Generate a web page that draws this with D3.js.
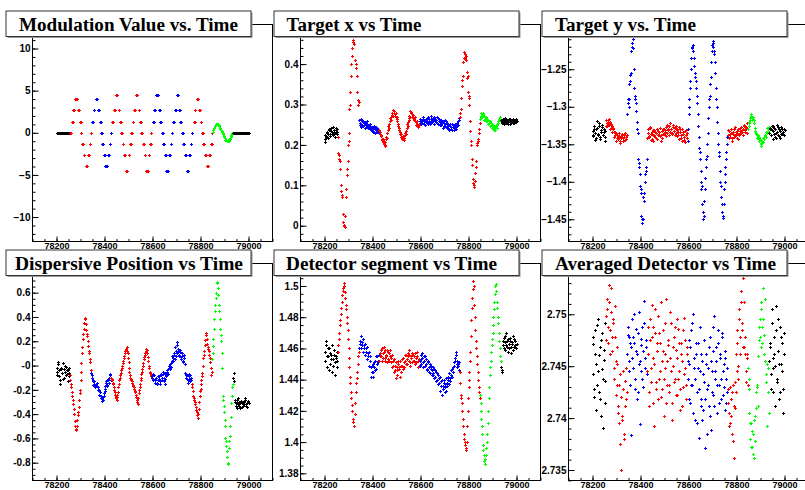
<!DOCTYPE html>
<html>
<head>
<meta charset="utf-8">
<script src="https://cdn.jsdelivr.net/npm/d3@7"></script>
<style>
  body { margin: 0; background: #fff; }
  svg { display: block; }
</style>
</head>
<body>
<script>
// Data

// sample times (every 4 time units, plus an offset set between them)
const times = [
  78200,78204,78208,78212,78216,78220,78224,78228,78232,78236,
  78240,78244,78248,78252,78256,78260,78264,78268,78272,78276,
  78280,78284,78288,78292,78296,78300,78304,78308,78312,78316,
  78320,78324,78328,78332,78336,78340,78344,78348,78352,78356,
  78360,78364,78368,78372,78376,78380,78384,78388,78392,78396,
  78400,78404,78408,78412,78416,78420,78424,78428,78432,78436,
  78440,78444,78448,78452,78456,78460,78464,78468,78472,78476,
  78480,78484,78488,78492,78496,78500,78504,78508,78512,78516,
  78520,78524,78528,78532,78536,78540,78544,78548,78552,78556,
  78560,78564,78568,78572,78576,78580,78584,78588,78592,78596,
  78600,78604,78608,78612,78616,78620,78624,78628,78632,78636,
  78640,78644,78648,78652,78656,78660,78664,78668,78672,78676,
  78680,78684,78688,78692,78696,78700,78704,78708,78712,78716,
  78720,78724,78728,78732,78736,78740,78744,78748,78752,78756,
  78760,78764,78768,78772,78776,78780,78784,78788,78792,78796,
  78800,78804,78808,78812,78816,78820,78824,78828,78832,78836,
  78840,78844,78848,78852,78856,78860,78864,78868,78872,78876,
  78880,78884,78888,78892,78896,78900,78904,78908,78912,78916,
  78920,78924,78928,78932,78936,78940,78944,78948,78952,78956,
  78960,78964,78968,78972,78976,78980,78984,78988,78992,78996,
  79000
];
const timesB = [
  78202,78206,78210,78214,78218,78222,78226,78230,78234,78238,
  78242,78246,78250,78254,78258,78262,78266,78270,78274,78278,
  78282,78286,78290,78294,78298,78302,78306,78310,78314,78318,
  78322,78326,78330,78334,78338,78342,78346,78350,78354,78358,
  78362,78366,78370,78374,78378,78382,78386,78390,78394,78398,
  78402,78406,78410,78414,78418,78422,78426,78430,78434,78438,
  78442,78446,78450,78454,78458,78462,78466,78470,78474,78478,
  78482,78486,78490,78494,78498,78502,78506,78510,78514,78518,
  78522,78526,78530,78534,78538,78542,78546,78550,78554,78558,
  78562,78566,78570,78574,78578,78582,78586,78590,78594,78598,
  78602,78606,78610,78614,78618,78622,78626,78630,78634,78638,
  78642,78646,78650,78654,78658,78662,78666,78670,78674,78678,
  78682,78686,78690,78694,78698,78702,78706,78710,78714,78718,
  78722,78726,78730,78734,78738,78742,78746,78750,78754,78758,
  78762,78766,78770,78774,78778,78782,78786,78790,78794,78798,
  78802,78806,78810,78814,78818,78822,78826,78830,78834,78838,
  78842,78846,78850,78854,78858,78862,78866,78870,78874,78878,
  78882,78886,78890,78894,78898,78902,78906,78910,78914,78918,
  78922,78926,78930,78934,78938,78942,78946,78950,78954,78958,
  78962,78966,78970,78974,78978,78982,78986,78990,78994,78998
];

// modulation periods: a time belongs to segment bisect(segmentEdges, t)
const segmentEdges = [78256, 78344, 78428, 78596, 78764, 78848, 78936];
const segmentKinds = ["off", "x", "y", "x", "y", "x", "e", "off"];

// Modulation value: stepped levels
const modTimes = [
  78200,78204,78208,78212,78216,78220,78224,78228,78232,78236,78240,78244,78248,78252,
  78258,78265,78270,78278,78281,78289,78297,78300,78307,78313,78321,78324,78332,78338,78342,
  78349,78355,78363,78366,78374,78381,78385,78391,78398,78404,78407,78416,78421,78426,
  78432,78439,78446,78449,78459,78464,78470,78476,78483,78489,78492,78501,78506,78510,
  78517,78523,78531,78534,78542,78548,78554,78560,78567,78574,78577,78584,78590,78594,
  78602,78608,78616,78619,78627,78633,78640,78645,78652,78658,78661,78669,78675,78680,
  78686,78693,78700,78703,78711,78716,78723,78729,78736,78743,78746,78754,78759,78763,
  78772,78776,78784,78787,78794,78801,78807,78812,78819,78826,78829,78837,78843,78846,
  78850,78854,78857,78860,78863,78865,78868,78872,78875,78878,78880,78883,78886,78889,78891,78893,
  78895,78897,78899,78902,78904,78907,78910,78914,78917,78920,78922,78925,78927,78929,78931,78933,
  78936,78940,78944,78948,78952,78956,78960,78964,78968,78972,78976,78980,78984,78988,78992,78996,79000
];
const modValues = [
  0,0,0,0,0,0,0,0,0,0,0,0,0,0,
  0,1.33,2.67,4,4,2.67,1.33,0,-1.33,-2.67,-4,-4,-2.67,-1.33,0,
  1.33,2.67,4,4,2.67,1.33,0,-1.33,-2.67,-4,-4,-2.67,-1.33,0,
  1.33,2.67,4.5,4.5,2.67,1.33,0,-1.33,-2.67,-4.5,-4.5,-2.67,-1.33,0,
  1.33,2.67,4.5,4.5,2.67,1.33,0,-1.33,-2.67,-4.5,-4.5,-2.67,-1.33,0,
  1.33,2.67,4.5,4.5,2.67,1.33,0,-1.33,-2.67,-4.5,-4.5,-2.67,-1.33,0,
  1.33,2.67,4.5,4.5,2.67,1.33,0,-1.33,-2.67,-4.5,-4.5,-2.67,-1.33,0,
  1.33,2.67,4,4,2.67,1.33,0,-1.33,-2.67,-4,-4,-2.67,-1.33,0,
  0.1,0.35,0.55,0.75,0.92,1.03,1.05,1.03,0.9,0.75,0.62,0.47,0.33,0.2,0.08,-0.05,
  -0.2,-0.36,-0.5,-0.67,-0.8,-0.91,-0.98,-0.99,-0.92,-0.79,-0.68,-0.52,-0.38,-0.24,-0.12,0,
  0,0,0,0,0,0,0,0,0,0,0,0,0,0,0,0,0
];
// second sample on each held level
const modTimesB = [
  78261,78268,78273,78281,78284,78292,78300,78303,78310,78316,78324,78327,78335,78341,
  78352,78358,78366,78369,78377,78384,78388,78394,78401,78407,78410,78419,78424,
  78435,78442,78449,78452,78462,78467,78473,78479,78486,78492,78495,78504,78509,
  78513,78520,78526,78534,78537,78545,78551,78557,78563,78570,78577,78580,78587,78593,
  78605,78611,78619,78622,78630,78636,78643,78648,78655,78661,78664,78672,78678,
  78683,78689,78696,78703,78706,78714,78719,78726,78732,78739,78746,78749,78757,78762,
  78775,78779,78787,78790,78797,78804,78810,78815,78822,78829,78832,78840,78846
];
const modValuesB = [
  0,1.33,2.67,4,4,2.67,1.33,0,-1.33,-2.67,-4,-4,-2.67,-1.33,
  1.33,2.67,4,4,2.67,1.33,0,-1.33,-2.67,-4,-4,-2.67,-1.33,
  1.33,2.67,4.5,4.5,2.67,1.33,0,-1.33,-2.67,-4.5,-4.5,-2.67,-1.33,
  0,1.33,2.67,4.5,4.5,2.67,1.33,0,-1.33,-2.67,-4.5,-4.5,-2.67,-1.33,
  1.33,2.67,4.5,4.5,2.67,1.33,0,-1.33,-2.67,-4.5,-4.5,-2.67,-1.33,
  0,1.33,2.67,4.5,4.5,2.67,1.33,0,-1.33,-2.67,-4.5,-4.5,-2.67,-1.33,
  1.33,2.67,4,4,2.67,1.33,0,-1.33,-2.67,-4,-4,-2.67,-1.33
];

const targetX = [
  0.215,0.224,0.219,0.231,0.226,0.236,0.228,0.241,0.233,0.225,0.238,0.229,0.243,0.232,
  0.22,0.175,0.16,0.1,0.07,0.03,0.002,-0.003,0.07,0.125,0.16,0.21,0.29,0.33,0.4,0.44,0.46,0.45,0.41,0.39,0.33,0.3,
  0.262,0.25,0.245,0.258,0.248,0.255,0.243,0.252,0.26,0.247,0.25,0.24,0.245,0.237,0.243,0.235,0.241,0.23,0.238,0.243,0.236,
  0.238,0.228,0.222,0.212,0.214,0.203,0.2,0.215,0.218,0.238,0.242,0.258,0.262,0.275,0.272,0.284,0.277,0.279,0.268,0.263,
  0.246,0.243,0.226,0.228,0.216,0.219,0.212,0.224,0.226,0.243,0.248,0.266,0.268,0.281,0.276,0.274,0.265,0.268,0.256,0.258,0.247,0.252,
  0.258,0.252,0.262,0.255,0.265,0.258,0.25,0.262,0.256,0.268,0.26,0.253,0.264,0.257,0.262,0.27,0.258,0.262,0.255,0.266,
  0.259,0.25,0.262,0.255,0.258,0.248,0.262,0.252,0.245,0.255,0.248,0.24,0.252,0.245,0.238,0.25,0.243,0.252,0.247,0.255,0.25,0.262,
  0.27,0.29,0.345,0.37,0.415,0.425,0.42,0.38,0.37,0.32,0.3,0.235,0.2,0.15,0.105,0.1,0.13,0.16,0.205,0.215,0.24,
  0.265,0.27,0.275,0.28,0.272,0.265,0.268,0.26,0.262,0.255,0.258,0.25,0.252,0.245,0.248,0.24,0.238,0.245,0.25,0.258,0.262,0.268,
  0.262,0.255,0.26,0.258,0.265,0.256,0.261,0.253,0.259,0.263,0.257,0.26,0.254,0.262,0.258,0.264,0.259
];
const targetXB = [
  0.208,0.221,0.229,0.217,0.239,0.222,0.234,0.227,0.245,0.23,0.219,0.236,0.226,0.24,
  0.18,0.165,0.14,0.085,0.075,0.01,0.0,0.025,0.09,0.14,0.2,0.23,0.3,0.37,0.42,0.455,0.47,0.41,0.4,0.37,0.31,0.305,
  0.255,0.264,0.251,0.246,0.26,0.249,0.257,0.245,0.253,0.241,0.248,0.252,0.238,0.244,0.233,0.246,0.239,0.244,0.232,0.24,0.229,
  0.232,0.225,0.215,0.208,0.21,0.198,0.208,0.22,0.23,0.248,0.252,0.266,0.27,0.279,0.286,0.28,0.272,0.27,0.258,0.252,
  0.238,0.232,0.22,0.214,0.222,0.218,0.229,0.235,0.252,0.256,0.262,0.272,0.285,0.279,0.268,0.27,0.262,0.26,0.25,0.253,0.244,0.249,
  0.264,0.255,0.259,0.268,0.252,0.261,0.257,0.266,0.251,0.263,0.255,0.272,0.258,0.26,0.266,0.253,0.263,0.256,0.27,0.252,
  0.265,0.257,0.25,0.26,0.243,0.254,0.247,0.258,0.241,0.25,0.236,0.246,0.24,0.251,0.244,0.237,0.248,0.24,0.252,0.246,0.258,0.266,
  0.28,0.315,0.36,0.405,0.43,0.415,0.41,0.365,0.33,0.315,0.26,0.21,0.165,0.115,0.095,0.11,0.145,0.2,0.21,0.23,0.255,
  0.272,0.278,0.268,0.276,0.262,0.27,0.258,0.265,0.252,0.26,0.247,0.255,0.242,0.25,0.236,0.244,0.25,0.242,0.255,0.264,0.27,0.258,
  0.257,0.263,0.252,0.266,0.26,0.255,0.262,0.258,0.265,0.252,0.261,0.256,0.263,0.255,0.26,0.257
];

const targetY = [
  -1.332,-1.338,-1.325,-1.335,-1.342,-1.328,-1.336,-1.322,-1.34,-1.331,-1.327,-1.337,-1.333,-1.34,
  -1.325,-1.322,-1.318,-1.324,-1.32,-1.328,-1.326,-1.33,-1.334,-1.338,-1.335,-1.341,-1.337,-1.343,-1.339,-1.345,-1.34,-1.336,-1.342,-1.338,-1.344,-1.34,
  -1.31,-1.295,-1.29,-1.265,-1.255,-1.22,-1.21,-1.25,-1.285,-1.295,-1.32,-1.335,-1.375,-1.39,-1.41,-1.445,-1.455,-1.42,-1.415,-1.39,-1.38,
  -1.342,-1.335,-1.34,-1.328,-1.336,-1.343,-1.331,-1.338,-1.334,-1.341,-1.329,-1.337,-1.333,-1.339,-1.345,-1.332,-1.336,-1.33,-1.338,-1.334,
  -1.327,-1.335,-1.331,-1.326,-1.333,-1.329,-1.336,-1.324,-1.332,-1.328,-1.335,-1.33,-1.338,-1.327,-1.333,-1.341,-1.329,-1.336,-1.344,-1.332,-1.338,-1.335,
  -1.345,-1.31,-1.29,-1.265,-1.235,-1.22,-1.225,-1.245,-1.26,-1.275,-1.295,-1.325,-1.355,-1.37,-1.4,-1.405,-1.44,-1.445,-1.41,-1.38,
  -1.365,-1.335,-1.3,-1.285,-1.26,-1.225,-1.22,-1.215,-1.23,-1.255,-1.29,-1.32,-1.35,-1.365,-1.4,-1.42,-1.44,-1.445,-1.41,-1.39,-1.37,-1.35,
  -1.338,-1.332,-1.34,-1.335,-1.342,-1.336,-1.33,-1.338,-1.333,-1.341,-1.335,-1.329,-1.337,-1.332,-1.327,-1.334,-1.33,-1.325,-1.333,-1.328,-1.322,
  -1.33,-1.322,-1.318,-1.312,-1.315,-1.313,-1.318,-1.328,-1.335,-1.338,-1.342,-1.34,-1.343,-1.348,-1.352,-1.345,-1.347,-1.34,-1.338,-1.333,-1.328,-1.332,
  -1.335,-1.328,-1.338,-1.331,-1.325,-1.336,-1.33,-1.341,-1.333,-1.327,-1.339,-1.332,-1.336,-1.329,-1.334,-1.338,-1.331
];
const targetYB = [
  -1.339,-1.329,-1.344,-1.33,-1.319,-1.337,-1.326,-1.343,-1.334,-1.324,-1.338,-1.329,-1.345,-1.332,
  -1.318,-1.326,-1.321,-1.316,-1.329,-1.323,-1.333,-1.328,-1.34,-1.333,-1.346,-1.338,-1.342,-1.335,-1.348,-1.341,-1.337,-1.346,-1.34,-1.335,-1.343,-1.337,
  -1.29,-1.3,-1.27,-1.258,-1.225,-1.215,-1.222,-1.275,-1.29,-1.305,-1.33,-1.37,-1.38,-1.405,-1.415,-1.45,-1.45,-1.425,-1.4,-1.385,-1.37,
  -1.33,-1.339,-1.327,-1.344,-1.333,-1.338,-1.346,-1.331,-1.34,-1.335,-1.343,-1.332,-1.338,-1.328,-1.337,-1.342,-1.329,-1.335,-1.331,-1.339,
  -1.324,-1.33,-1.337,-1.322,-1.329,-1.335,-1.327,-1.332,-1.338,-1.325,-1.331,-1.339,-1.334,-1.343,-1.33,-1.337,-1.345,-1.333,-1.34,-1.347,-1.331,-1.341,
  -1.33,-1.3,-1.275,-1.25,-1.222,-1.218,-1.235,-1.255,-1.265,-1.285,-1.31,-1.34,-1.36,-1.385,-1.41,-1.43,-1.45,-1.425,-1.395,-1.37,
  -1.35,-1.315,-1.29,-1.27,-1.24,-1.218,-1.212,-1.225,-1.24,-1.275,-1.3,-1.335,-1.36,-1.385,-1.405,-1.43,-1.448,-1.43,-1.4,-1.38,-1.36,-1.34,
  -1.331,-1.342,-1.336,-1.329,-1.345,-1.333,-1.34,-1.327,-1.337,-1.332,-1.343,-1.336,-1.328,-1.335,-1.331,-1.338,-1.324,-1.331,-1.327,-1.335,-1.33,
  -1.326,-1.32,-1.315,-1.31,-1.318,-1.316,-1.322,-1.332,-1.336,-1.341,-1.338,-1.345,-1.344,-1.35,-1.348,-1.342,-1.343,-1.337,-1.34,-1.335,-1.33,-1.327,
  -1.33,-1.337,-1.326,-1.343,-1.332,-1.328,-1.34,-1.335,-1.324,-1.338,-1.33,-1.342,-1.327,-1.336,-1.333,-1.329
];

const dispersive = [
  -0.02,-0.08,0.01,-0.04,-0.12,-0.03,-0.06,0.02,-0.1,-0.05,-0.01,-0.07,-0.04,-0.09,
  -0.08,-0.15,-0.22,-0.28,-0.36,-0.46,-0.53,-0.5,-0.41,-0.34,-0.23,-0.12,0.02,0.15,0.26,0.35,0.39,0.29,0.24,0.16,0.1,0.03,
  -0.06,-0.1,-0.13,-0.15,-0.17,-0.16,-0.14,-0.18,-0.2,-0.22,-0.25,-0.27,-0.28,-0.25,-0.21,-0.17,-0.14,-0.16,-0.12,-0.1,-0.07,
  -0.1,-0.12,-0.15,-0.2,-0.24,-0.27,-0.26,-0.22,-0.15,-0.1,-0.06,-0.02,0.02,0.06,0.1,0.14,0.15,0.1,0.03,-0.05,
  -0.1,-0.12,-0.14,-0.17,-0.19,-0.22,-0.26,-0.3,-0.27,-0.2,-0.15,-0.1,-0.05,0.0,0.05,0.09,0.12,0.13,0.07,0.0,-0.05,-0.08,
  -0.1,-0.07,-0.11,-0.08,-0.12,-0.1,-0.14,-0.12,-0.09,-0.13,-0.07,-0.1,-0.05,-0.13,-0.11,-0.08,-0.04,-0.07,-0.02,0.01,
  -0.01,0.04,0.06,0.09,0.05,0.12,0.17,0.1,0.14,0.08,0.11,0.05,0.08,0.03,0.06,-0.06,-0.1,-0.08,-0.12,-0.09,-0.13,-0.1,
  -0.15,-0.21,-0.27,-0.3,-0.34,-0.38,-0.43,-0.36,-0.25,-0.19,-0.12,-0.06,0.06,0.12,0.21,0.27,0.18,0.14,0.09,0.03,-0.08,
  0.05,0.16,0.3,0.45,0.56,0.68,0.64,0.5,0.38,0.25,0.1,-0.25,-0.33,-0.45,-0.6,-0.66,-0.75,-0.81,-0.62,-0.5,-0.31,-0.18,
  -0.1,-0.06,-0.3,-0.33,-0.28,-0.32,-0.3,-0.35,-0.29,-0.31,-0.33,-0.3,-0.27,-0.32,-0.34,-0.3,-0.31
];
const dispersiveB = [
  -0.05,0.03,-0.09,-0.15,-0.02,-0.06,-0.11,-0.03,0.0,-0.08,-0.04,-0.13,-0.02,-0.06,
  -0.12,-0.18,-0.25,-0.32,-0.4,-0.5,-0.52,-0.45,-0.38,-0.28,-0.2,-0.05,0.1,0.22,0.3,0.38,0.34,0.26,0.2,0.12,0.05,-0.04,
  -0.08,-0.12,-0.16,-0.13,-0.18,-0.15,-0.17,-0.2,-0.24,-0.22,-0.27,-0.29,-0.26,-0.23,-0.19,-0.13,-0.17,-0.11,-0.14,-0.08,-0.12,
  -0.11,-0.14,-0.18,-0.22,-0.26,-0.28,-0.24,-0.18,-0.12,-0.08,-0.04,0.0,0.04,0.08,0.12,0.13,0.12,0.06,-0.02,-0.08,
  -0.11,-0.13,-0.16,-0.18,-0.21,-0.24,-0.28,-0.32,-0.23,-0.18,-0.12,-0.07,-0.03,0.02,0.07,0.1,0.14,0.1,0.04,-0.02,-0.06,-0.09,
  -0.09,-0.12,-0.08,-0.14,-0.1,-0.15,-0.09,-0.11,-0.15,-0.08,-0.12,-0.07,-0.1,-0.15,-0.06,-0.09,-0.05,-0.03,0.0,-0.03,
  0.02,0.08,0.04,0.1,0.15,0.08,0.19,0.12,0.09,0.13,0.07,0.1,0.04,0.09,0.01,-0.08,-0.11,-0.14,-0.07,-0.11,-0.08,-0.12,
  -0.18,-0.25,-0.28,-0.32,-0.37,-0.41,-0.4,-0.3,-0.21,-0.15,-0.09,0.0,0.09,0.17,0.25,0.22,0.15,0.12,0.06,-0.02,-0.05,
  0.1,0.22,0.38,0.5,0.6,0.69,0.58,0.45,0.3,0.2,-0.02,-0.28,-0.38,-0.5,-0.62,-0.7,-0.8,-0.68,-0.58,-0.42,-0.25,-0.15,
  -0.13,-0.28,-0.31,-0.35,-0.3,-0.27,-0.33,-0.31,-0.29,-0.34,-0.3,-0.32,-0.28,-0.33,-0.31,-0.29
];

const detector = [
  1.458,1.452,1.462,1.448,1.455,1.46,1.45,1.456,1.445,1.453,1.459,1.451,1.455,1.448,
  1.458,1.466,1.475,1.482,1.49,1.497,1.5,1.496,1.488,1.48,1.472,1.46,1.448,1.438,1.428,1.42,1.413,1.41,1.425,1.438,1.445,1.455,
  1.46,1.465,1.468,1.462,1.466,1.46,1.463,1.458,1.461,1.455,1.458,1.452,1.448,1.445,1.45,1.442,1.448,1.452,1.447,1.455,1.451,
  1.452,1.457,1.455,1.46,1.454,1.458,1.452,1.456,1.459,1.453,1.457,1.455,1.451,1.456,1.449,1.453,1.446,1.451,1.448,1.443,
  1.45,1.447,1.452,1.445,1.449,1.454,1.448,1.452,1.456,1.45,1.455,1.459,1.451,1.454,1.457,1.452,1.455,1.45,1.454,1.458,1.452,1.449,
  1.452,1.456,1.45,1.454,1.448,1.452,1.455,1.45,1.446,1.451,1.448,1.444,1.449,1.446,1.443,1.447,1.442,1.445,1.44,1.443,
  1.438,1.442,1.436,1.44,1.434,1.438,1.432,1.437,1.441,1.436,1.44,1.444,1.439,1.443,1.447,1.445,1.449,1.452,1.456,1.45,1.449,1.451,
  1.445,1.43,1.425,1.415,1.405,1.4,1.396,1.4,1.42,1.435,1.445,1.458,1.478,1.492,1.503,1.488,1.472,1.46,1.45,1.44,1.432,
  1.43,1.42,1.41,1.398,1.392,1.386,1.392,1.4,1.412,1.428,1.443,1.452,1.462,1.47,1.48,1.49,1.5,1.497,1.486,1.476,1.465,1.455,
  1.448,1.445,1.465,1.46,1.468,1.462,1.465,1.458,1.463,1.467,1.461,1.464,1.459,1.466,1.462,1.46,1.463
];
const detectorB = [
  1.452,1.465,1.455,1.46,1.446,1.457,1.453,1.462,1.449,1.456,1.443,1.454,1.458,1.452,
  1.462,1.47,1.478,1.486,1.494,1.499,1.502,1.492,1.485,1.476,1.466,1.454,1.442,1.432,1.424,1.415,1.41,1.418,1.432,1.441,1.45,1.458,
  1.463,1.468,1.46,1.464,1.458,1.462,1.456,1.46,1.453,1.457,1.449,1.455,1.442,1.449,1.445,1.451,1.446,1.455,1.45,1.452,1.456,
  1.455,1.459,1.452,1.457,1.461,1.454,1.459,1.455,1.451,1.458,1.452,1.459,1.454,1.448,1.452,1.445,1.449,1.441,1.446,1.452,
  1.448,1.442,1.449,1.453,1.447,1.451,1.456,1.45,1.453,1.457,1.452,1.456,1.449,1.455,1.451,1.456,1.452,1.457,1.451,1.455,1.448,1.453,
  1.449,1.453,1.457,1.451,1.455,1.449,1.453,1.447,1.452,1.445,1.45,1.447,1.443,1.448,1.444,1.441,1.446,1.439,1.444,1.437,
  1.441,1.433,1.439,1.43,1.436,1.44,1.435,1.433,1.438,1.442,1.437,1.441,1.446,1.442,1.448,1.451,1.454,1.458,1.452,1.448,1.45,1.446,
  1.438,1.428,1.42,1.41,1.402,1.398,1.395,1.41,1.428,1.44,1.452,1.468,1.486,1.498,1.5,1.48,1.465,1.455,1.445,1.435,1.428,
  1.425,1.415,1.405,1.395,1.388,1.389,1.396,1.405,1.42,1.435,1.448,1.458,1.466,1.475,1.485,1.495,1.501,1.49,1.48,1.47,1.46,1.452,
  1.446,1.462,1.467,1.459,1.464,1.47,1.461,1.466,1.46,1.465,1.457,1.463,1.468,1.461,1.465,1.46
];

const averaged = [
  2.7442,2.7471,2.742,2.7485,2.7452,2.7432,2.7495,2.7461,2.7418,2.7475,2.7447,2.739,2.7466,2.7436,
  2.7475,2.7505,2.7488,2.7512,2.7462,2.7525,2.7478,2.7495,2.7448,2.7508,2.7455,2.7432,2.7468,2.7412,2.7395,2.7442,2.735,2.7402,2.7428,2.7385,2.7436,2.7418,
  2.7462,2.748,2.7445,2.7472,2.7384,2.7458,2.7478,2.75,2.7438,2.7465,2.7418,2.7482,2.7452,2.7394,2.747,2.7445,2.7488,2.743,2.7513,2.7458,2.7475,
  2.7445,2.7488,2.7412,2.7475,2.7435,2.7509,2.7458,2.7392,2.7482,2.7428,2.7465,2.7498,2.7438,2.7472,2.742,2.7455,2.7485,2.7402,2.7462,2.7448,
  2.7515,2.7432,2.747,2.7425,2.7458,2.7492,2.7415,2.745,2.7478,2.7438,2.7466,2.7422,2.7486,2.7445,2.7408,2.7472,2.7455,2.743,2.7496,2.7448,2.7418,2.7462,
  2.7438,2.7475,2.7452,2.7415,2.7485,2.7432,2.75,2.7448,2.7398,2.7462,2.7425,2.7472,2.7381,2.7445,2.7418,2.7455,2.7408,2.7435,2.7371,2.7462,
  2.7428,2.7448,2.7412,2.7478,2.7389,2.7445,2.7465,2.7422,2.7498,2.7438,2.7455,2.7405,2.7472,2.7432,2.7462,2.7418,2.7482,2.7445,2.743,2.7458,2.7415,2.7448,
  2.7428,2.7405,2.7395,2.7418,2.7385,2.7432,2.7362,2.741,2.7425,2.7445,2.7472,2.7438,2.7495,2.7462,2.7512,2.7485,2.7535,2.7468,2.7478,2.7445,2.7462,
  2.7448,2.7428,2.7395,2.7372,2.7388,2.7365,2.7398,2.7378,2.7425,2.743,2.7412,2.7475,2.7495,2.7468,2.7512,2.7488,2.7525,2.748,2.7455,2.7435,2.7392,2.7448,
  2.7455,2.7472,2.7428,2.7505,2.7448,2.7462,2.7412,2.7485,2.7438,2.7495,2.7452,2.7425,2.7478,2.7445,2.7405,2.7482,2.7538
];
const averagedB = [
  2.7478,2.7428,2.7462,2.7408,2.749,2.7445,2.7425,2.7468,2.7402,2.7482,2.7438,2.7456,2.7415,2.7492,
  2.7498,2.7515,2.7472,2.7528,2.7485,2.7502,2.7465,2.7492,2.7438,2.7478,2.7422,2.7452,2.7405,2.7432,2.7375,2.742,2.7398,2.7445,2.738,2.7412,2.7448,2.7425,
  2.7488,2.7455,2.7478,2.7432,2.7468,2.7495,2.7448,2.7472,2.7428,2.7486,2.7462,2.7425,2.7502,2.7455,2.7476,2.7438,2.7465,2.7492,2.7448,2.7468,2.7442,
  2.7462,2.7425,2.7495,2.7448,2.7478,2.7415,2.7488,2.7452,2.7505,2.7435,2.7472,2.7418,2.7482,2.7445,2.7512,2.7428,2.7465,2.7438,2.7492,2.7415,
  2.7455,2.7475,2.7432,2.7502,2.7445,2.7398,2.7468,2.7435,2.7488,2.7422,2.7458,2.7495,2.7438,2.7472,2.7428,2.7462,2.7412,2.7485,2.7442,2.7475,2.7432,2.7468,
  2.7455,2.7418,2.7468,2.7432,2.7492,2.7405,2.7458,2.7438,2.7472,2.7395,2.7448,2.7428,2.7488,2.7412,2.7462,2.7398,2.7442,2.7475,2.7418,2.7452,
  2.7385,2.7432,2.7468,2.7402,2.7455,2.7425,2.7488,2.7412,2.7445,2.7468,2.7432,2.7485,2.7415,2.7458,2.7438,2.7478,2.7422,2.7452,2.7408,2.7465,2.7438,2.7425,
  2.7415,2.7392,2.743,2.7402,2.7425,2.7378,2.7412,2.7435,2.7462,2.7485,2.745,2.7505,2.7478,2.7522,2.7492,2.7468,2.7512,2.7462,2.7435,2.7458,2.7432,
  2.7438,2.7405,2.738,2.7395,2.7372,2.7385,2.7362,2.7402,2.741,2.7432,2.746,2.7488,2.7478,2.7505,2.7472,2.7495,2.7462,2.7515,2.7442,2.7452,2.7425,2.7405,
  2.7468,2.7442,2.7492,2.7458,2.7425,2.7478,2.745,2.7508,2.7435,2.7465,2.7418,2.7488,2.7452,2.7472,2.7428,2.7462
];

const panelTitles = [
  "Modulation Value vs. Time", "Target x vs Time", "Target y vs. Time",
  "Dispersive Position vs Time", "Detector segment vs Time", "Averaged Detector vs Time"
];

const xTicks = [78200, 78400, 78600, 78800, 79000];
const modTicks = [10, 5, 0, -5, -10];
const targetXTicks = [0.4, 0.3, 0.2, 0.1, 0];
const targetYTicks = [-1.25, -1.3, -1.35, -1.4, -1.45];
const dispersiveTicks = [0.6, 0.4, 0.2, 0, -0.2, -0.4, -0.6, -0.8];
const dispersiveTickLabels = ["0.6", "0.4", "0.2", "-0", "-0.2", "-0.4", "-0.6", "-0.8"];
const detectorTicks = [1.5, 1.48, 1.46, 1.44, 1.42, 1.4, 1.38];
const averagedTicks = [2.75, 2.745, 2.74, 2.735];

// Layout

const layout = {
  colLeft: [32.5, 300.5, 568.5],
  frameWidth: 240,
  rowTop: [24.5, 263.5],
  frameHeight: 217,
  xDomain: [78100, 79100],
  titleInset: [13, 12.5, 13, 9, 12, 13],
  titleWidth: [219, 135, 141, 228, 211, 221]
};

const colors = { off: "#000000", x: "#ff0000", y: "#0000ff", e: "#00ff00" };
const kindAt = t => segmentKinds[d3.bisectRight(segmentEdges, t)];

const panels = [
  { col: 0, row: 0, series: [[modTimes, modValues], [modTimesB, modValuesB]], domain: [-12.9, 12.85], ticks: modTicks, minor: 1 },
  { col: 1, row: 0, series: [[times, targetX], [timesB, targetXB]], domain: [-0.039, 0.498], ticks: targetXTicks, minor: 0.02 },
  { col: 2, row: 0, series: [[times, targetY], [timesB, targetYB]], domain: [-1.4796, -1.1903], ticks: targetYTicks, minor: 0.01 },
  { col: 0, row: 1, series: [[times, dispersive], [timesB, dispersiveB]], domain: [-0.9466, 0.8405], ticks: dispersiveTicks, labels: dispersiveTickLabels, minor: 0.05 },
  { col: 1, row: 1, series: [[times, detector], [timesB, detectorB]], domain: [1.37539, 1.51442], ticks: detectorTicks, minor: 0.005 },
  { col: 2, row: 1, series: [[times, averaged], [timesB, averagedB]], domain: [2.73399, 2.75489], ticks: averagedTicks, minor: 0.001 }
];

const svg = d3.select("body").append("svg")
  .attr("width", 805)
  .attr("height", 490);

function minorTicks(domain, step) {
  const lo = Math.ceil(domain[0] / step - 1e-9), hi = Math.floor(domain[1] / step + 1e-9);
  return d3.range(lo, hi + 1).map(k => +(k * step).toFixed(6));
}

function styleAxis(sel, size) {
  sel.selectAll("text")
    .attr("font-family", "'Liberation Sans', Arial, sans-serif")
    .attr("font-weight", "bold")
    .attr("font-size", size)
    .attr("fill", "#000");
  sel.selectAll("line").attr("stroke", "#000");
  sel.select(".domain").remove();
}

panels.forEach((p, n) => {
  const left = layout.colLeft[p.col];
  const top = layout.rowTop[p.row];
  const right = left + layout.frameWidth;
  const bottom = top + layout.frameHeight;

  const x = d3.scaleLinear().domain(layout.xDomain).range([left, right]);
  const y = d3.scaleLinear().domain(p.domain).range([bottom, top]);

  const g = svg.append("g");

  // frame
  g.append("rect")
    .attr("x", left).attr("y", top)
    .attr("width", right - left).attr("height", bottom - top)
    .attr("fill", "none").attr("stroke", "#000");

  // markers: every sample as a small "+" coloured by its modulation period
  const points = p.series.flatMap(([ts, vs]) => ts.map((t, i) => ({ t, v: vs[i] })));
  points.sort((a, b) => a.t - b.t);
  g.append("g").selectAll("path")
    .data(points)
    .join("path")
      .attr("d", "M-1.5,0H1.5M0,-1.5V1.5")
      .attr("transform", d => `translate(${Math.round(x(d.t)) + 0.5},${Math.round(y(d.v)) + 0.5})`)
      .attr("stroke", d => colors[kindAt(d.t)])
      .attr("stroke-width", 1)
      .attr("fill", "none");

  // x axis
  g.append("g")
    .attr("transform", `translate(0,${bottom})`)
    .call(d3.axisBottom(x).tickValues(minorTicks(layout.xDomain, 50)).tickFormat("").tickSize(-2.5))
    .call(s => styleAxis(s, 9));
  g.append("g")
    .attr("transform", `translate(0,${bottom})`)
    .call(d3.axisBottom(x).tickValues(xTicks).tickFormat(d3.format("d")).tickSize(-5).tickPadding(1))
    .call(s => styleAxis(s, 9));

  // y axis
  g.append("g")
    .attr("transform", `translate(${left},0)`)
    .call(d3.axisLeft(y).tickValues(minorTicks(p.domain, p.minor)).tickFormat("").tickSize(-3))
    .call(s => styleAxis(s, 10));
  g.append("g")
    .attr("transform", `translate(${left},0)`)
    .call(d3.axisLeft(y).tickValues(p.ticks)
      .tickFormat((d, i) => p.labels ? p.labels[i] : d3.format("")(d))
      .tickSize(-6).tickPadding(2))
    .call(s => styleAxis(s, 10));

  // title box
  const bx = left - 26.5, by = top - 13.5, bw = 245, bh = 25.5;
  g.append("rect")
    .attr("x", bx + 1.5).attr("y", by + 1.5)
    .attr("width", bw).attr("height", bh)
    .attr("fill", "#999");
  g.append("rect")
    .attr("x", bx).attr("y", by)
    .attr("width", bw).attr("height", bh)
    .attr("fill", "#fff").attr("stroke", "#333").attr("stroke-width", 1);
  g.append("text")
    .attr("x", bx + layout.titleInset[n])
    .attr("y", top + 6.5)
    .attr("font-family", "'Liberation Serif', 'Times New Roman', serif")
    .attr("font-weight", "bold")
    .attr("font-size", 18.7)
    .attr("textLength", layout.titleWidth[n])
    .attr("lengthAdjust", "spacingAndGlyphs")
    .attr("fill", "#000")
    .text(panelTitles[n]);
});
</script>
</body>
</html>
